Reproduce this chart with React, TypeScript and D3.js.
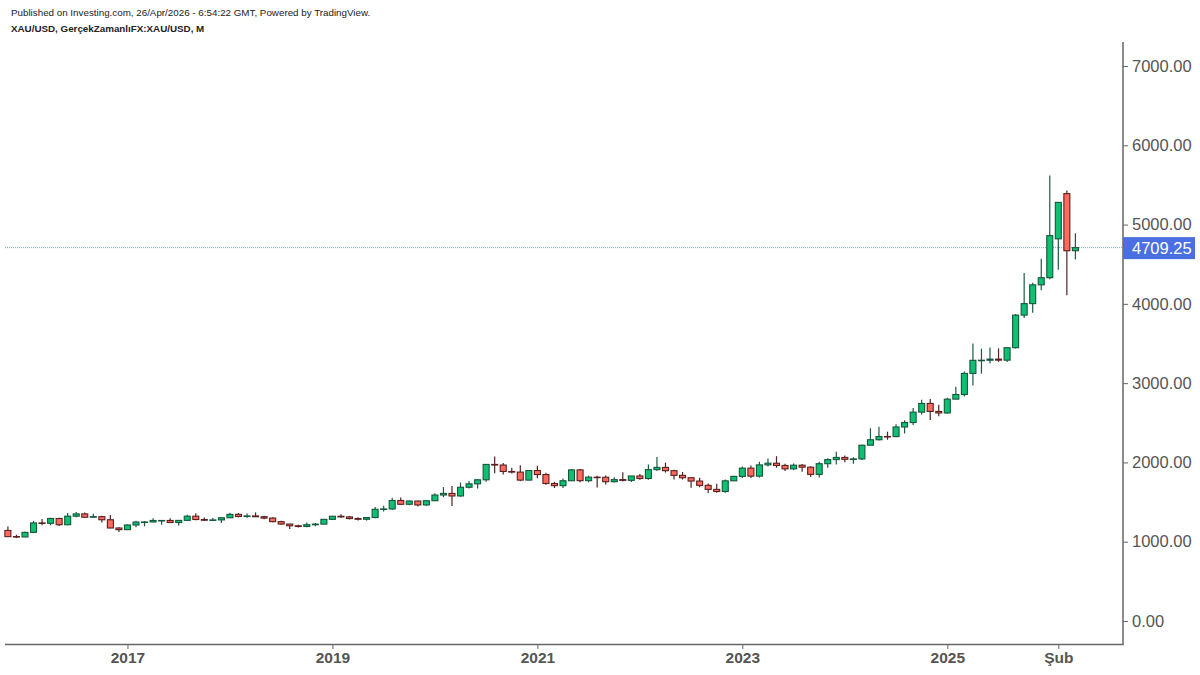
import React, { useEffect, useRef } from 'react';
import * as d3 from 'd3';

const opens = [
  1142, 1065, 1060, 1118, 1237, 1232, 1293, 1214, 1322, 1351, 1309, 1316, 1277, 1173,
  1152, 1211, 1248, 1249, 1268, 1268, 1242, 1269, 1322, 1280, 1271, 1275,
  1302, 1345, 1318, 1325, 1315, 1298, 1253, 1223, 1201, 1192, 1214, 1222,
  1282, 1321, 1313, 1292, 1283, 1305, 1409, 1413, 1520, 1472, 1513, 1464,
  1517, 1589, 1609, 1577, 1687, 1730, 1781, 1975, 1967, 1886, 1878, 1777,
  1898, 1847, 1734, 1707, 1769, 1906, 1770, 1814, 1813, 1757, 1783, 1774,
  1829, 1797, 1909, 1937, 1896, 1837, 1807, 1765, 1711, 1660, 1633, 1768,
  1824, 1928, 1827, 1969, 1990, 1962, 1919, 1965, 1940, 1849, 1984, 2036,
  2063, 2039, 2044, 2217, 2286, 2327, 2326, 2447, 2503, 2634, 2744, 2643,
  2624, 2798, 2857, 3123, 3288, 3289, 3303, 3290, 3447, 3858, 4003, 4240,
  4330, 4820, 5390, 4670,
];
const highs = [
  1191, 1088, 1127, 1263, 1287, 1303, 1303, 1362, 1375, 1367, 1352, 1326, 1338, 1183,
  1220, 1264, 1262, 1295, 1269, 1296, 1270, 1340, 1358, 1306, 1299, 1307,
  1366, 1362, 1356, 1369, 1326, 1309, 1265, 1223, 1214, 1243, 1237, 1284,
  1326, 1346, 1324, 1310, 1306, 1439, 1453, 1555, 1557, 1519, 1516, 1526,
  1611, 1689, 1704, 1747, 1765, 1789, 1981, 2075, 1992, 1933, 1965, 1906,
  1959, 1871, 1755, 1797, 1916, 1916, 1832, 1833, 1834, 1813, 1877, 1829,
  1853, 1974, 2070, 1998, 1909, 1879, 1814, 1807, 1735, 1730, 1786, 1833,
  1949, 1960, 2009, 2049, 2079, 1983, 1987, 1980, 1953, 2009, 2052, 2135,
  2088, 2065, 2222, 2431, 2450, 2387, 2483, 2531, 2685, 2790, 2801, 2726,
  2817, 2956, 3148, 3500, 3435, 3451, 3439, 3448, 3871, 4390, 4265, 4570,
  5620, 5280, 5430, 4890,
];
const lows = [
  1064, 1046, 1060, 1110, 1208, 1207, 1199, 1208, 1310, 1301, 1304, 1241, 1171, 1122,
  1147, 1181, 1195, 1245, 1214, 1236, 1204, 1267, 1271, 1262, 1264, 1237,
  1302, 1307, 1303, 1315, 1282, 1245, 1211, 1160, 1180, 1182, 1196, 1221,
  1276, 1303, 1281, 1266, 1267, 1296, 1382, 1400, 1465, 1459, 1445, 1454,
  1517, 1563, 1451, 1567, 1670, 1671, 1757, 1863, 1848, 1860, 1764, 1775,
  1802, 1717, 1677, 1677, 1765, 1750, 1750, 1684, 1721, 1746, 1759, 1753,
  1780, 1781, 1895, 1872, 1786, 1785, 1680, 1688, 1615, 1617, 1616, 1765,
  1804, 1804, 1809, 1950, 1932, 1893, 1903, 1884, 1815, 1810, 1932, 1973,
  2001, 1984, 2030, 2228, 2277, 2286, 2319, 2364, 2471, 2604, 2536, 2583,
  2614, 2832, 2832, 2970, 3120, 3247, 3268, 3268, 3436, 3821, 3887, 4172,
  4310, 4430, 4110, 4560,
];
const closes = [
  1064, 1060, 1118, 1237, 1234, 1293, 1214, 1322, 1351, 1309, 1316, 1277, 1173, 1152,
  1211, 1248, 1249, 1268, 1268, 1242, 1269, 1322, 1280, 1271, 1275, 1302,
  1345, 1318, 1325, 1315, 1298, 1253, 1223, 1201, 1192, 1214, 1222, 1282,
  1321, 1313, 1292, 1283, 1305, 1409, 1413, 1520, 1472, 1513, 1464, 1517,
  1589, 1609, 1577, 1687, 1730, 1781, 1975, 1967, 1886, 1878, 1777, 1898,
  1847, 1734, 1707, 1769, 1906, 1770, 1814, 1813, 1757, 1783, 1774, 1829,
  1797, 1909, 1937, 1896, 1837, 1807, 1765, 1711, 1660, 1633, 1768, 1824,
  1928, 1827, 1969, 1990, 1962, 1919, 1965, 1940, 1849, 1984, 2036, 2063,
  2039, 2044, 2217, 2286, 2327, 2326, 2447, 2503, 2634, 2744, 2643, 2624,
  2798, 2857, 3123, 3288, 3289, 3303, 3290, 3447, 3858, 4003, 4240, 4330,
  4860, 5280, 4670, 4709.25,
];

const months = d3.timeMonth
  .range(new Date(2015, 10, 1), new Date(2026, 4, 1))
  .map(d3.timeFormat('%Y-%m'));

const xTickMonths = ['2017-01', '2019-01', '2021-01', '2023-01', '2025-01', '2026-02'];
const xTickLabels = ['2017', '2019', '2021', '2023', '2025', 'Şub'];
const yTicks = [0, 1000, 2000, 3000, 4000, 5000, 6000, 7000];
const lastPrice = 4709.25;

const FONT = '"Liberation Sans", Arial, sans-serif';

export default function App() {
  const ref = useRef<SVGSVGElement>(null);

  useEffect(() => {
    const svg = d3.select(ref.current);
    svg.selectAll('*').remove();

    const x = d3.scalePoint<string>().domain(months).range([7.9, 1075.4]);
    const y = d3.scaleLinear().domain([0, 7000]).range([621, 66]);

    const candles = months.map((m, i) => ({
      m,
      o: opens[i],
      h: highs[i],
      l: lows[i],
      c: closes[i],
    }));

    // last price line, goes under the candles
    svg
      .append('line')
      .attr('x1', 5)
      .attr('x2', 1123)
      .attr('y1', y(lastPrice))
      .attr('y2', y(lastPrice))
      .attr('stroke', '#7fa6d8')
      .attr('stroke-width', 1)
      .attr('stroke-dasharray', '1 1');

    const g = svg
      .selectAll('g.candle')
      .data(candles)
      .enter()
      .append('g')
      .classed('candle', true);

    const up = (d: { o: number; c: number }) => d.c >= d.o;

    g.append('line')
      .attr('x1', (d) => x(d.m)!)
      .attr('x2', (d) => x(d.m)!)
      .attr('y1', (d) => y(d.h))
      .attr('y2', (d) => y(d.l))
      .attr('stroke', (d) => (up(d) ? '#1c5a42' : '#4f2322'))
      .attr('stroke-width', 1.2);

    g.append('rect')
      .attr('x', (d) => x(d.m)! - 3)
      .attr('width', 6)
      .attr('y', (d) => y(Math.max(d.o, d.c)))
      .attr('height', (d) => Math.max(y(Math.min(d.o, d.c)) - y(Math.max(d.o, d.c)), 0.5))
      .attr('fill', (d) => (up(d) ? '#0fbf72' : '#ff6a5f'))
      .attr('stroke', (d) => (up(d) ? '#14573c' : '#5a1f1f'))
      .attr('stroke-width', 1.1);

    // y axis on the right
    const yAxis = svg
      .append('g')
      .attr('transform', 'translate(1123,0)')
      .call(
        d3
          .axisRight(y)
          .tickValues(yTicks)
          .tickFormat((d) => d3.format('.2f')(d as number))
          .tickSize(5)
          .tickPadding(4),
      );
    yAxis.select('.domain').remove();
    yAxis.selectAll('.tick line').attr('stroke', '#666');
    yAxis
      .selectAll('.tick text')
      .attr('fill', '#555')
      .style('font-family', FONT)
      .style('font-size', '16.5px');

    // x axis
    const xAxis = svg
      .append('g')
      .attr('transform', 'translate(0,644)')
      .call(
        d3
          .axisBottom(x)
          .tickValues(xTickMonths)
          .tickFormat((d) => xTickLabels[xTickMonths.indexOf(d)])
          .tickSize(5)
          .tickPadding(3),
      );
    xAxis.select('.domain').remove();
    xAxis.selectAll('.tick line').attr('stroke', '#666');
    xAxis
      .selectAll('.tick text')
      .attr('fill', '#555')
      .style('font-family', FONT)
      .style('font-size', '15.5px')
      .style('font-weight', 'bold');

    // axis frame
    svg
      .append('path')
      .attr('d', 'M1123,42V644.5H5')
      .attr('fill', 'none')
      .attr('stroke', '#666')
      .attr('stroke-width', 1.5);

    // last price tag
    svg
      .append('rect')
      .attr('x', 1123)
      .attr('width', 72)
      .attr('y', y(lastPrice) - 10.5)
      .attr('height', 22)
      .attr('fill', '#4a6fe3');
    svg
      .append('text')
      .attr('x', 1132)
      .attr('y', y(lastPrice) + 6.5)
      .attr('fill', '#fff')
      .style('font-family', FONT)
      .style('font-size', '16.5px')
      .text(d3.format('.2f')(lastPrice));

    svg
      .append('text')
      .attr('x', 11)
      .attr('y', 16)
      .attr('fill', '#222')
      .style('font-family', FONT)
      .style('font-size', '9.8px')
      .text('Published on Investing.com, 26/Apr/2026 - 6:54:22 GMT, Powered by TradingView.');
    svg
      .append('text')
      .attr('x', 11)
      .attr('y', 32)
      .attr('fill', '#222')
      .style('font-family', FONT)
      .style('font-size', '9.8px')
      .style('font-weight', 'bold')
      .text('XAU/USD, GerçekZamanlıFX:XAU/USD, M');
  }, []);

  return (
    <svg
      ref={ref}
      width={1200}
      height={675}
      style={{ position: 'fixed', left: 0, top: 0, background: '#fff' }}
    />
  );
}
